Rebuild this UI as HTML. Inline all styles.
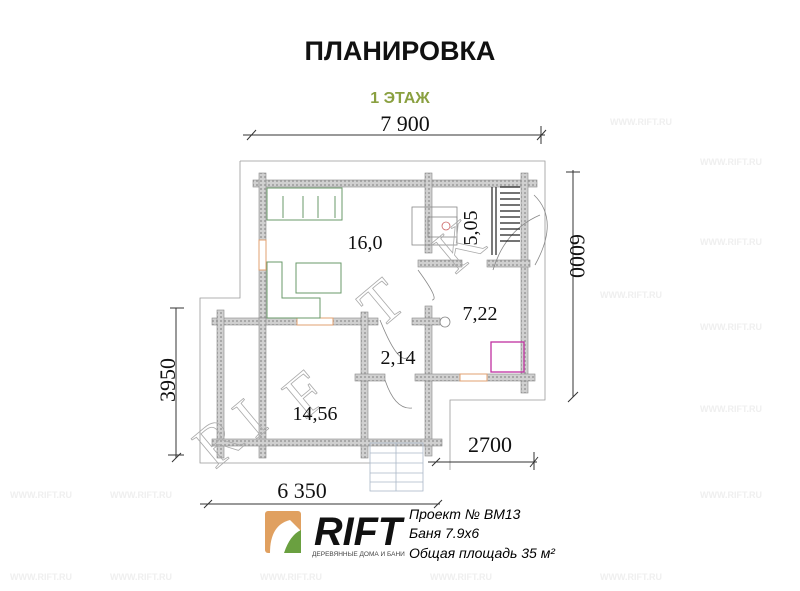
<!DOCTYPE html>
<html><head><meta charset="utf-8"><style>
html,body{margin:0;padding:0;background:#fff;}
body{width:800px;height:591px;overflow:hidden;position:relative;}
svg{position:absolute;left:0;top:0;}
</style></head><body>
<svg width="800" height="591" viewBox="0 0 800 591" xmlns="http://www.w3.org/2000/svg">
<defs>
<pattern id="h" width="4" height="4" patternUnits="userSpaceOnUse">
<rect width="4" height="4" fill="#d0d0d0"/><rect width="2" height="2" fill="#a8a8a8"/>
</pattern>
</defs>
<g font-family="Liberation Sans, sans-serif" font-size="9" fill="#efefef" font-weight="bold">
<text x="610" y="125">WWW.RIFT.RU</text><text x="700" y="165">WWW.RIFT.RU</text>
<text x="700" y="245">WWW.RIFT.RU</text><text x="600" y="298">WWW.RIFT.RU</text>
<text x="700" y="330">WWW.RIFT.RU</text><text x="700" y="412">WWW.RIFT.RU</text>
<text x="700" y="498">WWW.RIFT.RU</text><text x="110" y="498">WWW.RIFT.RU</text>
<text x="110" y="580">WWW.RIFT.RU</text><text x="260" y="580">WWW.RIFT.RU</text>
<text x="430" y="580">WWW.RIFT.RU</text><text x="600" y="580">WWW.RIFT.RU</text>
<text x="10" y="498">WWW.RIFT.RU</text><text x="10" y="580">WWW.RIFT.RU</text>
</g>
<text x="400" y="60" text-anchor="middle" font-family="Liberation Sans, sans-serif" font-weight="bold" font-size="27" fill="#111">ПЛАНИРОВКА</text>
<text x="400" y="103" text-anchor="middle" font-family="Liberation Sans, sans-serif" font-weight="bold" font-size="16" fill="#8aa040">1 ЭТАЖ</text>

<path d="M240,161 H545 V400 H450 V470 M240,161 V298 H200 V463 H370" fill="none" stroke="#999" stroke-width="0.8"/>
<g fill="url(#h)" stroke="#888" stroke-width="0.6">
<rect x="253" y="180" width="284" height="7"/>
<rect x="259" y="173" width="7" height="148"/>
<rect x="425" y="173" width="7" height="80"/>
<rect x="425" y="306" width="7" height="150"/>
<rect x="521" y="173" width="7" height="220"/>
<rect x="418" y="260" width="44" height="7"/>
<rect x="487" y="260" width="43" height="7"/>
<rect x="212" y="318" width="85" height="7"/>
<rect x="333" y="318" width="45" height="7"/>
<rect x="412" y="318" width="28" height="7"/>
<rect x="217" y="310" width="7" height="148"/>
<rect x="259" y="318" width="7" height="140"/>
<rect x="361" y="312" width="7" height="146"/>
<rect x="355" y="374" width="30" height="7"/>
<rect x="415" y="374" width="45" height="7"/>
<rect x="487" y="374" width="48" height="7"/>
<rect x="212" y="439" width="230" height="7"/>
</g>
<rect x="259" y="240" width="7" height="30" fill="#fff" stroke="#e0a070" stroke-width="1"/>
<rect x="297" y="318" width="36" height="7" fill="#fff" stroke="#e0a070" stroke-width="1"/>
<rect x="460" y="374" width="27" height="7" fill="#fff" stroke="#e0a070" stroke-width="1"/>
<g fill="none" stroke="#6a9a6a" stroke-width="1">
<rect x="267" y="188" width="75" height="32"/>
<path d="M283,196 V218 M303,196 V218 M318,196 V218 M335,196 V218"/>
<path d="M267,262 H282 V298 H320 V318 H267 Z"/>
<rect x="296" y="263" width="45" height="30"/>
</g>
<g fill="none" stroke="#888" stroke-width="0.8">
<rect x="412" y="207" width="45" height="38"/>
<rect x="428" y="217" width="29" height="20"/>
<circle cx="446" cy="226" r="4" stroke="#c66"/>
<circle cx="445" cy="322" r="5"/>
<path d="M418,270 Q440,300 432,300 M385,380 Q395,410 412,408 M380,320 Q400,370 410,355 M493,270 Q505,230 540,215 M534,195 Q560,220 535,265"/>
</g>
<g stroke="#222" stroke-width="1.2"><path d="M492,187 V255 M496,187 V255 M500,187 H520 M500,193 H520 M500,199 H520 M500,205 H520 M500,211 H520 M500,217 H520 M500,223 H520 M500,229 H520 M500,235 H520 M500,241 H520"/></g>
<rect x="491" y="342" width="33" height="30" fill="none" stroke="#c030a0" stroke-width="1.3"/>
<g fill="none" stroke="#aab8c8" stroke-width="0.8">
<rect x="370" y="443" width="53" height="48"/>
<path d="M370,453 H423 M370,463 H423 M370,473 H423 M370,482 H423 M396,443 V491"/>
</g>
<g font-family="Liberation Serif, serif" font-size="60" fill="none" stroke="#aaa" stroke-width="0.8">
<text transform="translate(215,470) rotate(-40)">R</text>
<text transform="translate(255,440) rotate(-40)">I</text>
<text transform="translate(305,420) rotate(-40)">F</text>
<text transform="translate(380,330) rotate(-40)">T</text>
<text transform="translate(455,275) rotate(-40)">K</text>
</g>
<g font-family="Liberation Serif, serif" font-size="20" fill="#111" text-anchor="middle">
<text x="365" y="249">16,0</text>
<text x="480" y="320">7,22</text>
<text x="398" y="364">2,14</text>
<text x="315" y="420">14,56</text>
<text transform="translate(477,228) rotate(-90)">5,05</text>
</g>
<g stroke="#333" stroke-width="1" fill="none">
<path d="M243,135 H545 M247,140 L256,130 M537,140 L546,130 M541,126 V144"/>
<path d="M573,170 V397 M566,172 H580 M568,402 L578,392"/>
<path d="M176,308 V458 M170,308 H184 M172,462 L181,453 M168,455 H184"/>
<path d="M428,462 H537 M432,466 L440,458 M530,467 L538,457 M534,452 V470"/>
<path d="M200,504 H440 M204,508 L212,500 M434,508 L442,500"/>
</g>
<g font-family="Liberation Serif, serif" font-size="22" fill="#111" text-anchor="middle">
<text x="405" y="131">7 900</text>
<text transform="translate(570,256) rotate(90)">6000</text>
<text transform="translate(175,380) rotate(-90)">3950</text>
<text x="490" y="452">2700</text>
<text x="302" y="498">6 350</text>
</g>
<rect x="265" y="511" width="36" height="42" rx="3" fill="#e0a060"/>
<path d="M270,553 Q270,525 290,520 L300,530 V553 Z" fill="#fff"/>
<path d="M284,553 Q290,535 301,530 V553 Z" fill="#6aa040"/>
<text x="314" y="545" font-family="Liberation Sans, sans-serif" font-weight="bold" font-style="italic" font-size="40" fill="#111" textLength="88" lengthAdjust="spacingAndGlyphs">RIFT</text>
<text x="312" y="556" font-family="Liberation Sans, sans-serif" font-size="6.5" fill="#444">ДЕРЕВЯННЫЕ ДОМА И БАНИ</text>
<g font-family="Liberation Sans, sans-serif" font-style="italic" font-size="14" fill="#000">
<text x="409" y="519">Проект № ВМ13</text>
<text x="409" y="538">Баня 7.9х6</text>
<text x="409" y="558">Общая площадь 35 м²</text>
</g>
</svg>
</body></html>
